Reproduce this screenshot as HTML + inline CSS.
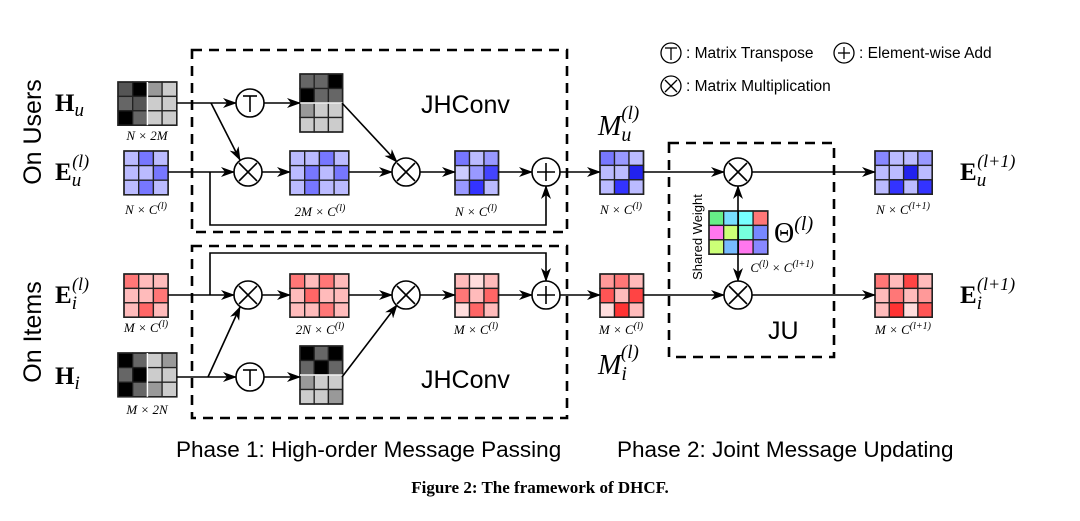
<!DOCTYPE html>
<html><head><meta charset="utf-8"><style>
html,body{margin:0;padding:0;background:#fff;}
svg{display:block;}
.s{font-family:"Liberation Sans",sans-serif;}
.m{font-family:"Liberation Serif",serif;font-style:italic;}
.b{font-family:"Liberation Serif",serif;font-weight:bold;}
.mx rect{stroke:#222;stroke-width:1.3;}
.mx rect.o{fill:none;stroke-width:1.6;}
</style></head><body>
<svg width="1080" height="521" viewBox="0 0 1080 521" xmlns="http://www.w3.org/2000/svg">
<defs>
<marker id="a" markerWidth="14" markerHeight="10" refX="13" refY="5" orient="auto" markerUnits="userSpaceOnUse">
<path d="M0,0 L14,5 L0,10 L4,5 Z" fill="#000"/></marker>
</defs>

<g class="mx">
<g transform="translate(118,82)">
<rect x="0" y="0" width="14.7" height="14.4" fill="#555"/><rect x="14.7" y="0" width="14.7" height="14.4" fill="#000"/><rect x="29.4" y="0" width="14.7" height="14.4" fill="#999"/><rect x="44.1" y="0" width="14.7" height="14.4" fill="#ccc"/>
<rect x="0" y="14.4" width="14.7" height="14.4" fill="#666"/><rect x="14.7" y="14.4" width="14.7" height="14.4" fill="#555"/><rect x="29.4" y="14.4" width="14.7" height="14.4" fill="#ccc"/><rect x="44.1" y="14.4" width="14.7" height="14.4" fill="#ccc"/>
<rect x="0" y="28.8" width="14.7" height="14.4" fill="#000"/><rect x="14.7" y="28.8" width="14.7" height="14.4" fill="#666"/><rect x="29.4" y="28.8" width="14.7" height="14.4" fill="#ccc"/><rect x="44.1" y="28.8" width="14.7" height="14.4" fill="#ccc"/>
<rect class="o" x="0" y="0" width="58.8" height="43.2"/><line x1="29.4" y1="0" x2="29.4" y2="43.2" stroke="#fff" stroke-width="1.5"/>
</g>
<g transform="translate(300,74)">
<rect x="0" y="0" width="14.2" height="14.5" fill="#666"/><rect x="14.2" y="0" width="14.2" height="14.5" fill="#666"/><rect x="28.4" y="0" width="14.2" height="14.5" fill="#000"/>
<rect x="0" y="14.5" width="14.2" height="14.5" fill="#000"/><rect x="14.2" y="14.5" width="14.2" height="14.5" fill="#666"/><rect x="28.4" y="14.5" width="14.2" height="14.5" fill="#666"/>
<rect x="0" y="29" width="14.2" height="14.5" fill="#999"/><rect x="14.2" y="29" width="14.2" height="14.5" fill="#ccc"/><rect x="28.4" y="29" width="14.2" height="14.5" fill="#ccc"/>
<rect x="0" y="43.5" width="14.2" height="14.5" fill="#ccc"/><rect x="14.2" y="43.5" width="14.2" height="14.5" fill="#ccc"/><rect x="28.4" y="43.5" width="14.2" height="14.5" fill="#ccc"/>
<rect class="o" x="0" y="0" width="42.6" height="58"/><line x1="0" y1="29" x2="42.6" y2="29" stroke="#fff" stroke-width="1.5"/>
</g>
<g transform="translate(124,151)">
<rect x="0" y="0" width="14.7" height="14.6" fill="#bbf"/><rect x="14.7" y="0" width="14.7" height="14.6" fill="#77f"/><rect x="29.4" y="0" width="14.7" height="14.6" fill="#bbf"/>
<rect x="0" y="14.6" width="14.7" height="14.6" fill="#bbf"/><rect x="14.7" y="14.6" width="14.7" height="14.6" fill="#bbf"/><rect x="29.4" y="14.6" width="14.7" height="14.6" fill="#77f"/>
<rect x="0" y="29.2" width="14.7" height="14.6" fill="#bbf"/><rect x="14.7" y="29.2" width="14.7" height="14.6" fill="#77f"/><rect x="29.4" y="29.2" width="14.7" height="14.6" fill="#bbf"/>
<rect class="o" x="0" y="0" width="44.1" height="43.8"/>
</g>
<g transform="translate(290,151)">
<rect x="0" y="0" width="14.7" height="14.6" fill="#bbf"/><rect x="14.7" y="0" width="14.7" height="14.6" fill="#bbf"/><rect x="29.4" y="0" width="14.7" height="14.6" fill="#77f"/><rect x="44.1" y="0" width="14.7" height="14.6" fill="#bbf"/>
<rect x="0" y="14.6" width="14.7" height="14.6" fill="#bbf"/><rect x="14.7" y="14.6" width="14.7" height="14.6" fill="#77f"/><rect x="29.4" y="14.6" width="14.7" height="14.6" fill="#bbf"/><rect x="44.1" y="14.6" width="14.7" height="14.6" fill="#77f"/>
<rect x="0" y="29.2" width="14.7" height="14.6" fill="#bbf"/><rect x="14.7" y="29.2" width="14.7" height="14.6" fill="#77f"/><rect x="29.4" y="29.2" width="14.7" height="14.6" fill="#bbf"/><rect x="44.1" y="29.2" width="14.7" height="14.6" fill="#bbf"/>
<rect class="o" x="0" y="0" width="58.8" height="43.8"/>
</g>
<g transform="translate(455,151)">
<rect x="0" y="0" width="14.5" height="14.6" fill="#77f"/><rect x="14.5" y="0" width="14.5" height="14.6" fill="#bbf"/><rect x="29" y="0" width="14.5" height="14.6" fill="#99f"/>
<rect x="0" y="14.6" width="14.5" height="14.6" fill="#ccf"/><rect x="14.5" y="14.6" width="14.5" height="14.6" fill="#99f"/><rect x="29" y="14.6" width="14.5" height="14.6" fill="#44f"/>
<rect x="0" y="29.2" width="14.5" height="14.6" fill="#99f"/><rect x="14.5" y="29.2" width="14.5" height="14.6" fill="#33f"/><rect x="29" y="29.2" width="14.5" height="14.6" fill="#bbf"/>
<rect class="o" x="0" y="0" width="43.5" height="43.8"/>
</g>
<g transform="translate(600,151)">
<rect x="0" y="0" width="14.5" height="14.4" fill="#77f"/><rect x="14.5" y="0" width="14.5" height="14.4" fill="#99f"/><rect x="29" y="0" width="14.5" height="14.4" fill="#bbf"/>
<rect x="0" y="14.4" width="14.5" height="14.4" fill="#bbf"/><rect x="14.5" y="14.4" width="14.5" height="14.4" fill="#bbf"/><rect x="29" y="14.4" width="14.5" height="14.4" fill="#22e"/>
<rect x="0" y="28.8" width="14.5" height="14.4" fill="#bbf"/><rect x="14.5" y="28.8" width="14.5" height="14.4" fill="#33f"/><rect x="29" y="28.8" width="14.5" height="14.4" fill="#bbf"/>
<rect class="o" x="0" y="0" width="43.5" height="43.2"/>
</g>
<g transform="translate(875,151)">
<rect x="0" y="0" width="14.3" height="14.4" fill="#88f"/><rect x="14.3" y="0" width="14.3" height="14.4" fill="#bbf"/><rect x="28.6" y="0" width="14.3" height="14.4" fill="#bbf"/><rect x="42.9" y="0" width="14.3" height="14.4" fill="#99f"/>
<rect x="0" y="14.4" width="14.3" height="14.4" fill="#bbf"/><rect x="14.3" y="14.4" width="14.3" height="14.4" fill="#bbf"/><rect x="28.6" y="14.4" width="14.3" height="14.4" fill="#22e"/><rect x="42.9" y="14.4" width="14.3" height="14.4" fill="#bbf"/>
<rect x="0" y="28.8" width="14.3" height="14.4" fill="#bbf"/><rect x="14.3" y="28.8" width="14.3" height="14.4" fill="#33f"/><rect x="28.6" y="28.8" width="14.3" height="14.4" fill="#bbf"/><rect x="42.9" y="28.8" width="14.3" height="14.4" fill="#33f"/>
<rect class="o" x="0" y="0" width="57.2" height="43.2"/>
</g>
<g transform="translate(709,211)">
<rect x="0" y="0" width="14.7" height="14.4" fill="#6e8"/><rect x="14.7" y="0" width="14.7" height="14.4" fill="#7df"/><rect x="29.4" y="0" width="14.7" height="14.4" fill="#7ff"/><rect x="44.1" y="0" width="14.7" height="14.4" fill="#f77"/>
<rect x="0" y="14.4" width="14.7" height="14.4" fill="#f7e"/><rect x="14.7" y="14.4" width="14.7" height="14.4" fill="#cf7"/><rect x="29.4" y="14.4" width="14.7" height="14.4" fill="#7fd"/><rect x="44.1" y="14.4" width="14.7" height="14.4" fill="#78f"/>
<rect x="0" y="28.8" width="14.7" height="14.4" fill="#cf7"/><rect x="14.7" y="28.8" width="14.7" height="14.4" fill="#7bf"/><rect x="29.4" y="28.8" width="14.7" height="14.4" fill="#f7e"/><rect x="44.1" y="28.8" width="14.7" height="14.4" fill="#88f"/>
<rect class="o" x="0" y="0" width="58.8" height="43.2"/>
</g>
<g transform="translate(124,274)">
<rect x="0" y="0" width="14.7" height="14.4" fill="#f77"/><rect x="14.7" y="0" width="14.7" height="14.4" fill="#fbb"/><rect x="29.4" y="0" width="14.7" height="14.4" fill="#fbb"/>
<rect x="0" y="14.4" width="14.7" height="14.4" fill="#fbb"/><rect x="14.7" y="14.4" width="14.7" height="14.4" fill="#fbb"/><rect x="29.4" y="14.4" width="14.7" height="14.4" fill="#f77"/>
<rect x="0" y="28.8" width="14.7" height="14.4" fill="#fbb"/><rect x="14.7" y="28.8" width="14.7" height="14.4" fill="#f66"/><rect x="29.4" y="28.8" width="14.7" height="14.4" fill="#fbb"/>
<rect class="o" x="0" y="0" width="44.1" height="43.2"/>
</g>
<g transform="translate(290,274)">
<rect x="0" y="0" width="14.7" height="14.4" fill="#f77"/><rect x="14.7" y="0" width="14.7" height="14.4" fill="#fbb"/><rect x="29.4" y="0" width="14.7" height="14.4" fill="#f77"/><rect x="44.1" y="0" width="14.7" height="14.4" fill="#fbb"/>
<rect x="0" y="14.4" width="14.7" height="14.4" fill="#fbb"/><rect x="14.7" y="14.4" width="14.7" height="14.4" fill="#f66"/><rect x="29.4" y="14.4" width="14.7" height="14.4" fill="#fbb"/><rect x="44.1" y="14.4" width="14.7" height="14.4" fill="#fbb"/>
<rect x="0" y="28.8" width="14.7" height="14.4" fill="#fbb"/><rect x="14.7" y="28.8" width="14.7" height="14.4" fill="#fbb"/><rect x="29.4" y="28.8" width="14.7" height="14.4" fill="#f77"/><rect x="44.1" y="28.8" width="14.7" height="14.4" fill="#fbb"/>
<rect class="o" x="0" y="0" width="58.8" height="43.2"/>
</g>
<g transform="translate(455,274)">
<rect x="0" y="0" width="14.5" height="14.4" fill="#fbb"/><rect x="14.5" y="0" width="14.5" height="14.4" fill="#fdd"/><rect x="29" y="0" width="14.5" height="14.4" fill="#fbb"/>
<rect x="0" y="14.4" width="14.5" height="14.4" fill="#f77"/><rect x="14.5" y="14.4" width="14.5" height="14.4" fill="#fbb"/><rect x="29" y="14.4" width="14.5" height="14.4" fill="#f66"/>
<rect x="0" y="28.8" width="14.5" height="14.4" fill="#fdd"/><rect x="14.5" y="28.8" width="14.5" height="14.4" fill="#f66"/><rect x="29" y="28.8" width="14.5" height="14.4" fill="#fbb"/>
<rect class="o" x="0" y="0" width="43.5" height="43.2"/>
</g>
<g transform="translate(600,274)">
<rect x="0" y="0" width="14.5" height="14.4" fill="#f99"/><rect x="14.5" y="0" width="14.5" height="14.4" fill="#f77"/><rect x="29" y="0" width="14.5" height="14.4" fill="#fbb"/>
<rect x="0" y="14.4" width="14.5" height="14.4" fill="#f55"/><rect x="14.5" y="14.4" width="14.5" height="14.4" fill="#fbb"/><rect x="29" y="14.4" width="14.5" height="14.4" fill="#f44"/>
<rect x="0" y="28.8" width="14.5" height="14.4" fill="#fdd"/><rect x="14.5" y="28.8" width="14.5" height="14.4" fill="#f33"/><rect x="29" y="28.8" width="14.5" height="14.4" fill="#fbb"/>
<rect class="o" x="0" y="0" width="43.5" height="43.2"/>
</g>
<g transform="translate(875,274)">
<rect x="0" y="0" width="14.3" height="14.4" fill="#f77"/><rect x="14.3" y="0" width="14.3" height="14.4" fill="#fbb"/><rect x="28.6" y="0" width="14.3" height="14.4" fill="#f44"/><rect x="42.9" y="0" width="14.3" height="14.4" fill="#fbb"/>
<rect x="0" y="14.4" width="14.3" height="14.4" fill="#fbb"/><rect x="14.3" y="14.4" width="14.3" height="14.4" fill="#f77"/><rect x="28.6" y="14.4" width="14.3" height="14.4" fill="#fbb"/><rect x="42.9" y="14.4" width="14.3" height="14.4" fill="#f99"/>
<rect x="0" y="28.8" width="14.3" height="14.4" fill="#fbb"/><rect x="14.3" y="28.8" width="14.3" height="14.4" fill="#f33"/><rect x="28.6" y="28.8" width="14.3" height="14.4" fill="#fdd"/><rect x="42.9" y="28.8" width="14.3" height="14.4" fill="#f55"/>
<rect class="o" x="0" y="0" width="57.2" height="43.2"/>
</g>
<g transform="translate(118,353)">
<rect x="0" y="0" width="14.7" height="14.6" fill="#000"/><rect x="14.7" y="0" width="14.7" height="14.6" fill="#666"/><rect x="29.4" y="0" width="14.7" height="14.6" fill="#ccc"/><rect x="44.1" y="0" width="14.7" height="14.6" fill="#999"/>
<rect x="0" y="14.6" width="14.7" height="14.6" fill="#666"/><rect x="14.7" y="14.6" width="14.7" height="14.6" fill="#000"/><rect x="29.4" y="14.6" width="14.7" height="14.6" fill="#ccc"/><rect x="44.1" y="14.6" width="14.7" height="14.6" fill="#ccc"/>
<rect x="0" y="29.2" width="14.7" height="14.6" fill="#000"/><rect x="14.7" y="29.2" width="14.7" height="14.6" fill="#666"/><rect x="29.4" y="29.2" width="14.7" height="14.6" fill="#999"/><rect x="44.1" y="29.2" width="14.7" height="14.6" fill="#ccc"/>
<rect class="o" x="0" y="0" width="58.8" height="43.8"/><line x1="29.4" y1="0" x2="29.4" y2="43.8" stroke="#fff" stroke-width="1.5"/>
</g>
<g transform="translate(300,346)">
<rect x="0" y="0" width="14.2" height="14.5" fill="#000"/><rect x="14.2" y="0" width="14.2" height="14.5" fill="#666"/><rect x="28.4" y="0" width="14.2" height="14.5" fill="#000"/>
<rect x="0" y="14.5" width="14.2" height="14.5" fill="#666"/><rect x="14.2" y="14.5" width="14.2" height="14.5" fill="#000"/><rect x="28.4" y="14.5" width="14.2" height="14.5" fill="#666"/>
<rect x="0" y="29" width="14.2" height="14.5" fill="#999"/><rect x="14.2" y="29" width="14.2" height="14.5" fill="#ccc"/><rect x="28.4" y="29" width="14.2" height="14.5" fill="#ccc"/>
<rect x="0" y="43.5" width="14.2" height="14.5" fill="#ccc"/><rect x="14.2" y="43.5" width="14.2" height="14.5" fill="#ccc"/><rect x="28.4" y="43.5" width="14.2" height="14.5" fill="#999"/>
<rect class="o" x="0" y="0" width="42.6" height="58"/><line x1="0" y1="29" x2="42.6" y2="29" stroke="#fff" stroke-width="1.5"/>
</g>
</g>

<g fill="none" stroke="#000" stroke-width="1.6">
<rect x="192" y="50" width="375" height="182" stroke-width="2.6" stroke-dasharray="10,7"/>
<rect x="192" y="246" width="375" height="172" stroke-width="2.6" stroke-dasharray="10,7"/>
<rect x="669" y="143" width="165" height="214" stroke-width="2.6" stroke-dasharray="10,7"/>
<line x1="177" y1="103" x2="236" y2="103" marker-end="url(#a)"/>
<line x1="211" y1="103" x2="240" y2="160" marker-end="url(#a)"/>
<line x1="264" y1="103" x2="300" y2="103" marker-end="url(#a)"/>
<line x1="342" y1="103" x2="397" y2="162" marker-end="url(#a)"/>
<line x1="168" y1="172" x2="234" y2="172" marker-end="url(#a)"/>
<line x1="262" y1="172" x2="290" y2="172" marker-end="url(#a)"/>
<line x1="349" y1="172" x2="392" y2="172" marker-end="url(#a)"/>
<line x1="420" y1="172" x2="455" y2="172" marker-end="url(#a)"/>
<line x1="498" y1="172" x2="532" y2="172" marker-end="url(#a)"/>
<polyline points="210,172 210,225 546,225 546,186" marker-end="url(#a)"/>
<line x1="560" y1="172" x2="600" y2="172" marker-end="url(#a)"/>
<line x1="643" y1="172" x2="724" y2="172" marker-end="url(#a)"/>
<line x1="752" y1="172" x2="875" y2="172" marker-end="url(#a)"/>
<line x1="168" y1="295" x2="234" y2="295" marker-end="url(#a)"/>
<polyline points="210,295 210,253 546,253 546,281" marker-end="url(#a)"/>
<line x1="262" y1="295" x2="290" y2="295" marker-end="url(#a)"/>
<line x1="349" y1="295" x2="392" y2="295" marker-end="url(#a)"/>
<line x1="420" y1="295" x2="455" y2="295" marker-end="url(#a)"/>
<line x1="498" y1="295" x2="532" y2="295" marker-end="url(#a)"/>
<line x1="177" y1="377" x2="236" y2="377" marker-end="url(#a)"/>
<line x1="208" y1="377" x2="240" y2="307" marker-end="url(#a)"/>
<line x1="264" y1="377" x2="300" y2="377" marker-end="url(#a)"/>
<line x1="342" y1="377" x2="397" y2="305" marker-end="url(#a)"/>
<line x1="560" y1="295" x2="600" y2="295" marker-end="url(#a)"/>
<line x1="643" y1="295" x2="724" y2="295" marker-end="url(#a)"/>
<line x1="752" y1="295" x2="875" y2="295" marker-end="url(#a)"/>
<line x1="738" y1="232" x2="738" y2="186" marker-end="url(#a)"/>
<line x1="738" y1="232" x2="738" y2="281" marker-end="url(#a)"/>
</g>

<g fill="#fff" stroke="#000" stroke-width="1.6">
<circle cx="250" cy="103" r="14"/><circle cx="248" cy="172" r="14"/><circle cx="406" cy="172" r="14"/><circle cx="546" cy="172" r="14"/><circle cx="738" cy="172" r="14"/>
<circle cx="248" cy="295" r="14"/><circle cx="406" cy="295" r="14"/><circle cx="546" cy="295" r="14"/><circle cx="738" cy="295" r="14"/><circle cx="250" cy="377" r="14"/>
</g>
<g stroke="#000" stroke-width="1.6">
<line x1="243" y1="96" x2="257" y2="96"/><line x1="250" y1="96" x2="250" y2="112"/>
<line x1="243" y1="370" x2="257" y2="370"/><line x1="250" y1="370" x2="250" y2="386"/>
<line x1="239" y1="163" x2="257" y2="181"/><line x1="257" y1="163" x2="239" y2="181"/>
<line x1="397" y1="163" x2="415" y2="181"/><line x1="415" y1="163" x2="397" y2="181"/>
<line x1="729" y1="163" x2="747" y2="181"/><line x1="747" y1="163" x2="729" y2="181"/>
<line x1="239" y1="286" x2="257" y2="304"/><line x1="257" y1="286" x2="239" y2="304"/>
<line x1="397" y1="286" x2="415" y2="304"/><line x1="415" y1="286" x2="397" y2="304"/>
<line x1="729" y1="286" x2="747" y2="304"/><line x1="747" y1="286" x2="729" y2="304"/>
<line x1="537" y1="172" x2="555" y2="172"/><line x1="546" y1="163" x2="546" y2="181"/>
<line x1="537" y1="295" x2="555" y2="295"/><line x1="546" y1="286" x2="546" y2="304"/>
</g>

<g fill="#fff" stroke="#000" stroke-width="1.3">
<circle cx="671" cy="53" r="10"/><circle cx="844" cy="53" r="10"/><circle cx="671" cy="86" r="10"/>
</g>
<g stroke="#000" stroke-width="1.3">
<line x1="665" y1="48" x2="677" y2="48"/><line x1="671" y1="48" x2="671" y2="60"/>
<line x1="838" y1="53" x2="850" y2="53"/><line x1="844" y1="47" x2="844" y2="59"/>
<line x1="665" y1="80" x2="677" y2="92"/><line x1="677" y1="80" x2="665" y2="92"/>
</g>
<g class="s" font-size="15.5">
<text x="686" y="58">: Matrix Transpose</text>
<text x="859" y="58">: Element-wise Add</text>
<text x="686" y="91">: Matrix Multiplication</text>
</g>
<g class="s" font-size="25">
<text x="421" y="113">JHConv</text>
<text x="421" y="388">JHConv</text>
<text x="768" y="339">JU</text>
<text transform="translate(41,132) rotate(-90)" text-anchor="middle">On Users</text>
<text transform="translate(41,332) rotate(-90)" text-anchor="middle">On Items</text>
</g>
<text class="s" font-size="13" transform="translate(702,237) rotate(-90)" text-anchor="middle">Shared Weight</text>
<g class="s" font-size="22.5">
<text x="176" y="457">Phase 1: High-order Message Passing</text>
<text x="617" y="457">Phase 2: Joint Message Updating</text>
</g>
<text class="b" font-size="17" x="540" y="493" text-anchor="middle">Figure 2: The framework of DHCF.</text>

<g font-size="25">
<text x="55" y="111" class="b">H<tspan class="m" font-weight="normal" font-size="19" dy="5">u</tspan></text>
<text x="55" y="180" class="b">E<tspan class="m" font-weight="normal" font-size="19" dy="6">u</tspan><tspan class="m" font-weight="normal" font-size="18" dx="-9" dy="-19">(l)</tspan></text>
<text x="55" y="303" class="b">E<tspan class="m" font-weight="normal" font-size="19" dy="6">i</tspan><tspan class="m" font-weight="normal" font-size="18" dx="-5" dy="-19">(l)</tspan></text>
<text x="55" y="384" class="b">H<tspan class="m" font-weight="normal" font-size="19" dy="5">i</tspan></text>
<text x="960" y="180" class="b">E<tspan class="m" font-weight="normal" font-size="19" dy="6">u</tspan><tspan class="m" font-weight="normal" font-size="18" dx="-9" dy="-19">(l+1)</tspan></text>
<text x="960" y="303" class="b">E<tspan class="m" font-weight="normal" font-size="19" dy="6">i</tspan><tspan class="m" font-weight="normal" font-size="18" dx="-5" dy="-19">(l+1)</tspan></text>
</g>
<g font-size="28" class="m">
<text x="598" y="135">M<tspan font-size="20" dy="6">u</tspan><tspan font-size="19" dx="-10" dy="-22">(l)</tspan></text>
<text x="598" y="374">M<tspan font-size="20" dy="6">i</tspan><tspan font-size="19" dx="-6" dy="-22">(l)</tspan></text>
<text x="774" y="242" font-family="Liberation Serif,serif" font-style="normal">Θ<tspan class="m" font-size="20" dy="-12">(l)</tspan></text>
</g>
<g class="m" font-size="13" text-anchor="middle">
<text x="147" y="140">N × 2M</text>
<text x="146" y="214">N × C<tspan font-size="10" dy="-5">(l)</tspan></text>
<text x="320" y="216">2M × C<tspan font-size="10" dy="-5">(l)</tspan></text>
<text x="476" y="216">N × C<tspan font-size="10" dy="-5">(l)</tspan></text>
<text x="621" y="214">N × C<tspan font-size="10" dy="-5">(l)</tspan></text>
<text x="903" y="214">N × C<tspan font-size="10" dy="-5">(l+1)</tspan></text>
<text x="146" y="332">M × C<tspan font-size="10" dy="-5">(l)</tspan></text>
<text x="320" y="334">2N × C<tspan font-size="10" dy="-5">(l)</tspan></text>
<text x="476" y="334">M × C<tspan font-size="10" dy="-5">(l)</tspan></text>
<text x="621" y="334">M × C<tspan font-size="10" dy="-5">(l)</tspan></text>
<text x="903" y="334">M × C<tspan font-size="10" dy="-5">(l+1)</tspan></text>
<text x="147" y="414">M × 2N</text>
<text x="782" y="272">C<tspan font-size="10" dy="-5">(l)</tspan><tspan dy="5"> × C</tspan><tspan font-size="10" dy="-5">(l+1)</tspan></text>
</g>
</svg>
</body></html>
